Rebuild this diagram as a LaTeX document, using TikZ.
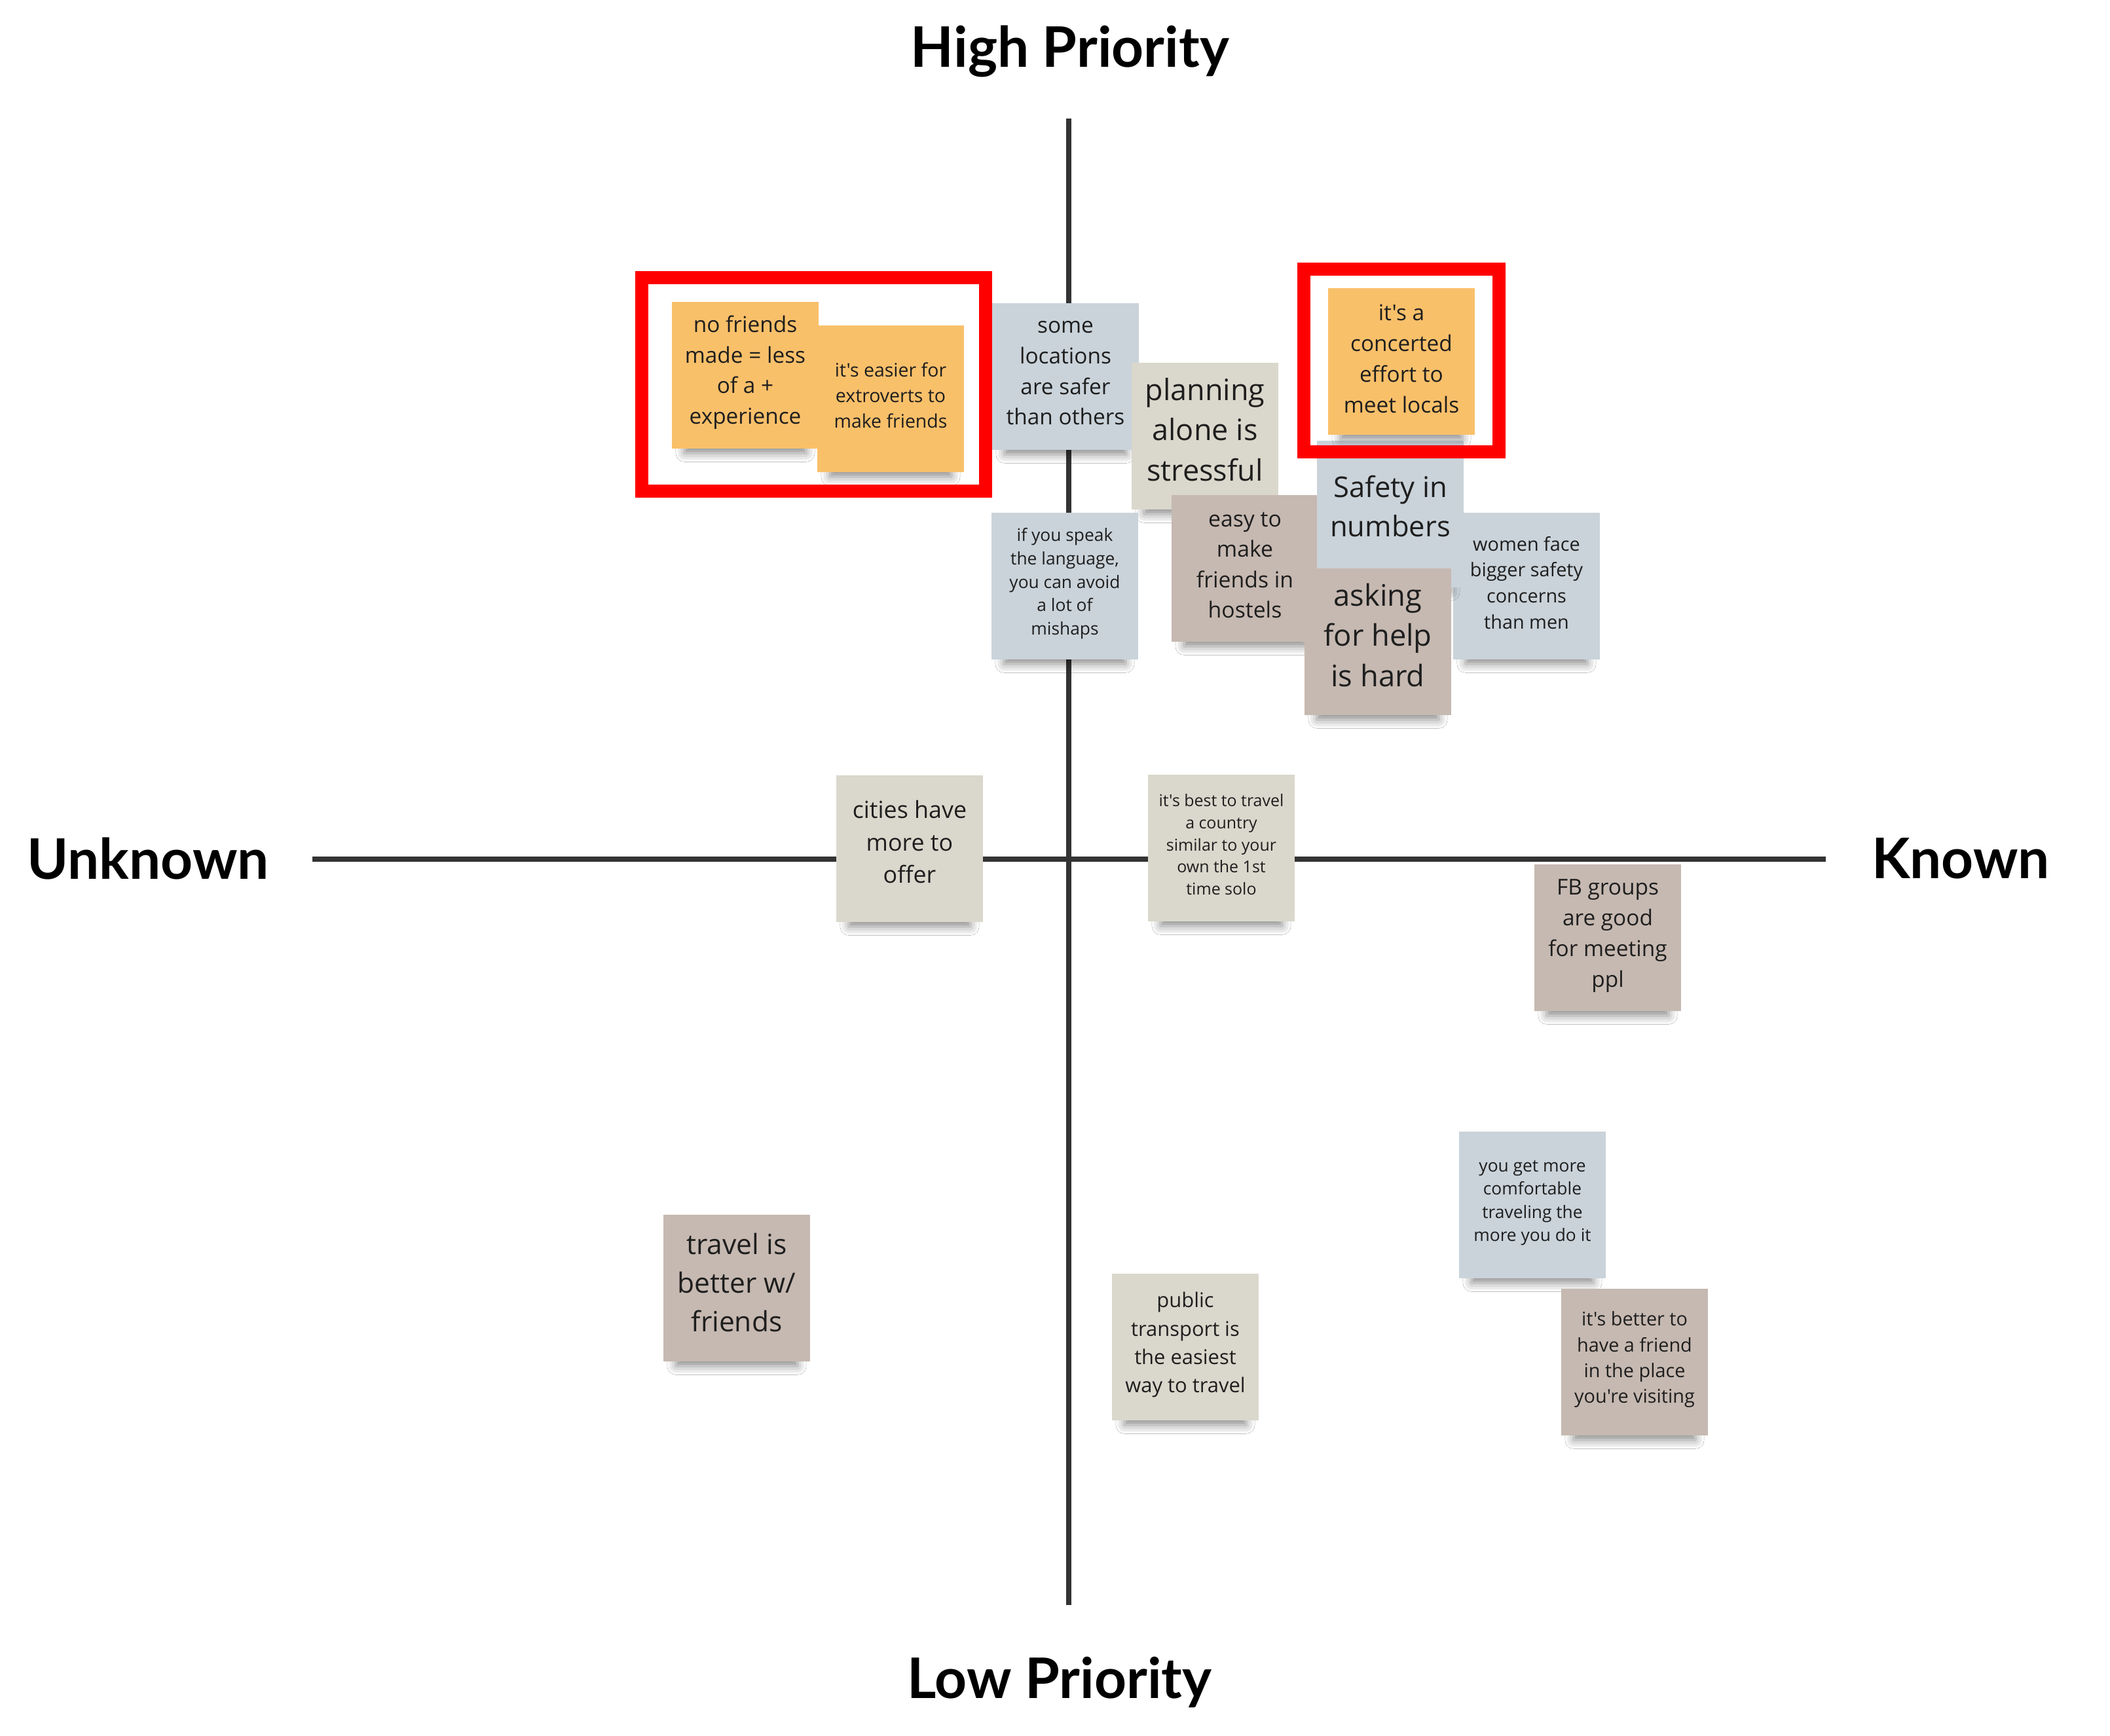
\documentclass[tikz,border=0pt]{standalone}
\usepackage{fontspec}
\setmainfont{Open Sans}[Ligatures=TeXOff]
\newfontfamily\axisfont{Lato}
\usetikzlibrary{shadows.blur}
\usepackage{xcolor}
\definecolor{ink}{HTML}{1E1E1E}
\definecolor{axisgray}{HTML}{333333}
\definecolor{orngfill}{HTML}{F9C06A}
\definecolor{slatefill}{HTML}{CAD3DA}
\definecolor{sandfill}{HTML}{DAD7CC}
\definecolor{taupefill}{HTML}{C6B9B1}
\definecolor{hired}{HTML}{FF0000}
\newcommand{\sz}[2]{\fontsize{#1}{#2}\selectfont}

\begin{document}
\begin{tikzpicture}[
  note/.style={minimum width=2.24cm, minimum height=2.24cm, inner sep=0pt,
               align=center, text=ink, text depth=3pt,
               blur shadow={shadow xshift=0pt, shadow yshift=-9pt,
                            shadow scale=0.83, shadow opacity=45,
                            shadow blur radius=4.5pt}},
  orngnote/.style={note, fill=orngfill},
  slatenote/.style={note, fill=slatefill},
  sandnote/.style={note, fill=sandfill},
  taupenote/.style={note, fill=taupefill},
  axisline/.style={draw=axisgray, line width=2.5pt},
  axlbl/.style={font=\axisfont\bfseries\sz{24.3}{29}, text=black},
  hilite/.style={draw=hired, line width=0.2cm}
]
\useasboundingbox[fill=white] (0,0) rectangle (32.22,-26.51);

% axes
\coordinate (top) at (16.32,-1.81);
\coordinate (bottom) at (16.32,-24.51);
\coordinate (left) at (4.77,-13.12);
\coordinate (right) at (27.88,-13.12);
\draw[axisline] (top) -- (bottom);
\draw[axisline] (left) -- (right);

\node[axlbl] (high) at (16.34,-0.78) {High Priority};
\node[axlbl] (low) at (16.18,-25.69) {Low Priority};
\node[axlbl] (unknown) at (2.26,-13.11) {Unknown};
\node[axlbl] (known) at (29.94,-13.11) {Known};

% top left
\node[orngnote, font=\sz{9.5}{13.3}, text depth=4.7pt] (nofriends) at (11.38,-5.73)
  {no friends\\made = less\\of a +\\experience};
\node[orngnote, font=\sz{8.1}{11.1}] (extroverts) at (13.60,-6.09)
  {it's easier for\\extroverts to\\make friends};

% top right
\node[slatenote, font=\sz{9.5}{13.3}] (someloc) at (16.27,-5.75)
  {some\\locations\\are safer\\than others};
\node[sandnote, font=\sz{12.8}{17.5}, text depth=6pt] (planning) at (18.40,-6.66)
  {planning\\alone is\\stressful};
\node[slatenote, font=\sz{7.5}{10.2}, text depth=4pt] (speak) at (16.26,-8.95)
  {if you speak\\the language,\\you can avoid\\a lot of\\mishaps};
\node[taupenote, font=\sz{9.6}{13.2}] (hostels) at (19.01,-8.68)
  {easy to\\make\\friends in\\hostels};
\node[slatenote, font=\sz{8.2}{11.3}] (women) at (23.31,-8.95)
  {women face\\bigger safety\\concerns\\than men};
\node[slatenote, font=\sz{12.4}{17}, text depth=7pt] (safety) at (21.23,-7.85)
  {Safety in\\numbers};
\node[taupenote, font=\sz{12.9}{17.5}, text depth=6pt] (asking) at (21.04,-9.80)
  {asking\\for help\\is hard};
\node[orngnote, font=\sz{9.5}{13.4}, text depth=2.5pt] (concerted) at (21.40,-5.52)
  {it's a\\concerted\\effort to\\meet locals};

% middle row
\node[sandnote, font=\sz{10.2}{14}, text depth=6pt] (cities) at (13.89,-12.96)
  {cities have\\more to\\offer};
\node[sandnote, font=\sz{7.1}{9.6}] (besttravel) at (18.65,-12.95)
  {it's best to travel\\a country\\similar to your\\own the 1st\\time solo};
\node[taupenote, font=\sz{9.5}{13.3}, text depth=4pt] (fbgroups) at (24.55,-14.32)
  {FB groups\\are good\\for meeting\\ppl};

% bottom half
\node[slatenote, font=\sz{7.5}{10.1}, text depth=3.5pt] (getmore) at (23.40,-18.40)
  {you get more\\comfortable\\traveling the\\more you do it};
\node[taupenote, font=\sz{8.2}{11.2}, text depth=4pt] (havefriend) at (24.96,-20.80)
  {it's better to\\have a friend\\in the place\\you're visiting};
\node[taupenote, font=\sz{12.1}{16.7}, text depth=5pt] (travelbetter) at (11.25,-19.67)
  {travel is\\better w/\\friends};
\node[sandnote, font=\sz{8.8}{12.3}, text depth=4pt] (transport) at (18.10,-20.57)
  {public\\transport is\\the easiest\\way to travel};

% highlight frames
\draw[hilite] (9.80,-4.24) rectangle (15.05,-7.50);
\draw[hilite] (19.91,-4.11) rectangle (22.89,-6.90);

\end{tikzpicture}
\end{document}
